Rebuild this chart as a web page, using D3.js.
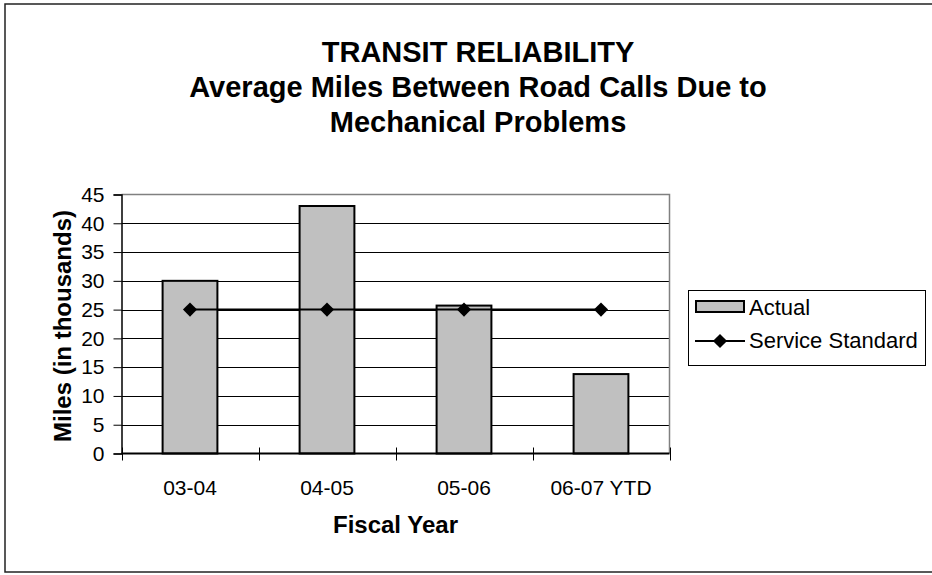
<!DOCTYPE html>
<html>
<head>
<meta charset="utf-8">
<script src="https://cdn.jsdelivr.net/npm/d3@7"></script>
<style>
  body { margin: 0; background: #fff; }
  svg { display: block; font-family: Arial, "Liberation Sans", sans-serif; }
</style>
</head>
<body>
<svg class="chart" width="932" height="575"></svg>
<script>
const years = ["03-04", "04-05", "05-06", "06-07 YTD"];
const actual = [30, 43, 25.7, 13.8];
const standard = [25, 25, 25, 25];
const yTicks = [0, 5, 10, 15, 20, 25, 30, 35, 40, 45];
const titleLines = ["TRANSIT RELIABILITY", "Average Miles Between Road Calls Due to", "Mechanical Problems"];

const svg = d3.select("svg.chart");

// outer chart border (runs off the right edge, like the source)
svg.append("rect")
  .attr("x", 5)
  .attr("y", 4)
  .attr("width", 950)
  .attr("height", 568)
  .attr("fill", "#fff")
  .attr("stroke", "#222")
  .attr("stroke-width", 1.5);

const plot = { left: 121.5, right: 669.5, top: 194.5, bottom: 453.5 };

const x = d3.scaleBand()
  .domain(years)
  .range([plot.left, plot.right])
  .padding(0);

const y = d3.scaleLinear()
  .domain([0, 45])
  .range([plot.bottom, plot.top]);

// title
svg.append("g")
  .selectAll("text")
  .data(titleLines)
  .enter()
  .append("text")
  .attr("x", 478)
  .attr("y", (d, i) => 62 + i * 35)
  .attr("text-anchor", "middle")
  .attr("font-size", 29)
  .attr("font-weight", "bold")
  .text(d => d);

// gridlines
svg.append("g")
  .selectAll("line")
  .data(yTicks.filter(d => d > 0 && d < 45))
  .enter()
  .append("line")
  .attr("x1", plot.left)
  .attr("x2", plot.right)
  .attr("y1", d => Math.round(y(d)) + 0.5)
  .attr("y2", d => Math.round(y(d)) + 0.5)
  .attr("stroke", "#000")
  .attr("stroke-width", 1);

// plot border top / right (grey)
svg.append("path")
  .attr("d", `M${plot.left},${plot.top}H${plot.right}V${plot.bottom}`)
  .attr("fill", "none")
  .attr("stroke", "#808080")
  .attr("stroke-width", 1.5);

// bars
const barW = x.bandwidth() * 0.4;
svg.append("g")
  .selectAll("rect")
  .data(actual)
  .enter()
  .append("rect")
  .attr("x", (d, i) => x(years[i]) + (x.bandwidth() - barW) / 2)
  .attr("y", d => y(d))
  .attr("width", barW)
  .attr("height", d => y(0) - y(d))
  .attr("fill", "#c0c0c0")
  .attr("stroke", "#000")
  .attr("stroke-width", 2);

// y axis
const yAxis = svg.append("g")
  .attr("transform", `translate(${plot.left},0)`)
  .call(d3.axisLeft(y).tickValues(yTicks).tickSize(8).tickPadding(9));
yAxis.select(".domain").attr("stroke", "#000").attr("stroke-width", 1.5);
yAxis.selectAll(".tick line").attr("stroke", "#000");
yAxis.selectAll(".tick text")
  .attr("font-size", 21)
  .attr("font-family", "Arial, 'Liberation Sans', sans-serif")
  .attr("fill", "#000");

// x axis: ticks between categories, crossing the axis line
const xAxis = svg.append("g");
xAxis.append("line")
  .attr("x1", plot.left)
  .attr("x2", plot.right)
  .attr("y1", y(0))
  .attr("y2", y(0))
  .attr("stroke", "#000")
  .attr("stroke-width", 2);
xAxis.selectAll("line.tick")
  .data(years.concat([null]))
  .enter()
  .append("line")
  .attr("class", "tick")
  .attr("x1", (d, i) => Math.round(plot.left + i * x.step()) + 0.5)
  .attr("x2", (d, i) => Math.round(plot.left + i * x.step()) + 0.5)
  .attr("y1", y(0) - 6)
  .attr("y2", y(0) + 7)
  .attr("stroke", "#000");
xAxis.selectAll("text")
  .data(years)
  .enter()
  .append("text")
  .attr("x", d => x(d) + x.bandwidth() / 2)
  .attr("y", 495)
  .attr("text-anchor", "middle")
  .attr("font-size", 21)
  .text(d => d);

// service standard line
const line = d3.line()
  .x((d, i) => x(years[i]) + x.bandwidth() / 2)
  .y(d => y(d));
svg.append("path")
  .datum(standard)
  .attr("d", line)
  .attr("fill", "none")
  .attr("stroke", "#000")
  .attr("stroke-width", 2);

const diamond = d3.symbol().type(d3.symbolSquare).size(100);
svg.append("g")
  .selectAll("path")
  .data(standard)
  .enter()
  .append("path")
  .attr("d", diamond)
  .attr("transform", (d, i) => `translate(${x(years[i]) + x.bandwidth() / 2},${y(d)}) rotate(45)`)
  .attr("fill", "#000");

// axis titles
svg.append("text")
  .attr("transform", "translate(71,326) rotate(-90)")
  .attr("text-anchor", "middle")
  .attr("font-size", 24)
  .attr("font-weight", "bold")
  .text("Miles (in thousands)");

svg.append("text")
  .attr("x", (plot.left + plot.right) / 2)
  .attr("y", 533)
  .attr("text-anchor", "middle")
  .attr("font-size", 24)
  .attr("font-weight", "bold")
  .text("Fiscal Year");

// legend
const legend = svg.append("g");
legend.append("rect")
  .attr("x", 688.5)
  .attr("y", 290.5)
  .attr("width", 237)
  .attr("height", 75)
  .attr("fill", "#fff")
  .attr("stroke", "#000")
  .attr("stroke-width", 1);
legend.append("rect")
  .attr("x", 696)
  .attr("y", 301)
  .attr("width", 48)
  .attr("height", 11)
  .attr("fill", "#c0c0c0")
  .attr("stroke", "#000")
  .attr("stroke-width", 2);
legend.append("line")
  .attr("x1", 695)
  .attr("x2", 745)
  .attr("y1", 341)
  .attr("y2", 341)
  .attr("stroke", "#000")
  .attr("stroke-width", 2);
legend.append("path")
  .attr("d", diamond)
  .attr("transform", "translate(720,341) rotate(45)")
  .attr("fill", "#000");
legend.selectAll("text")
  .data(["Actual", "Service Standard"])
  .enter()
  .append("text")
  .attr("x", 749)
  .attr("y", (d, i) => 315 + i * 33)
  .attr("font-size", 22)
  .text(d => d);
</script>
</body>
</html>
